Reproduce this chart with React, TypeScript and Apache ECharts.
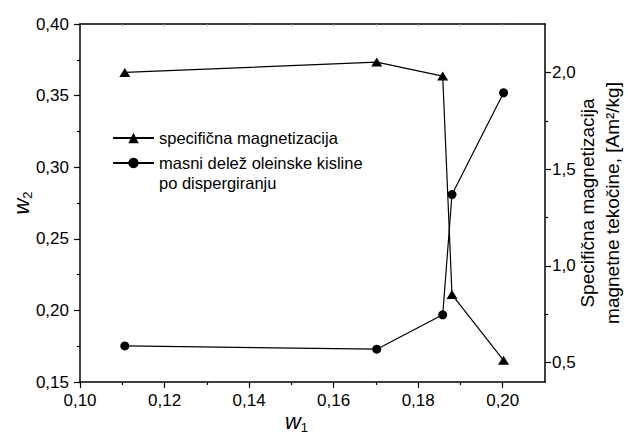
import React, { useEffect, useRef } from "react";
import * as echarts from "echarts";

const FONT = '"Liberation Sans", Arial, Helvetica, sans-serif';

// w1 (x) values shared by both series
const w1 = [0.1106, 0.1702, 0.1858, 0.188, 0.2002];
// specifična magnetizacija [Am²/kg] (right axis)
const magnetization = [2.0, 2.053, 1.981, 0.852, 0.512];
// masni delež oleinske kisline po dispergiranju, w2 (left axis)
const oleicFraction = [0.1752, 0.1729, 0.1969, 0.2809, 0.352];

const xMajorTicks = [0.1, 0.12, 0.14, 0.16, 0.18, 0.2];
const xMinorTicks = [0.11, 0.13, 0.15, 0.17, 0.19];
const xTopTicks = [0.11, 0.12, 0.13, 0.14, 0.15, 0.16, 0.17, 0.18, 0.19, 0.2];
const rightMajorTicks = [0.5, 1.0, 1.5, 2.0];
const rightMinorTicks = [0.75, 1.25, 1.75];

const seriesMagName = "specifična magnetizacija";
const seriesOleName = "masni delež oleinske kisline\npo dispergiranju";

export default function App() {
  const ref = useRef<HTMLDivElement>(null);
  useEffect(() => {
    document.body.style.margin = "0";
    if (!ref.current) return;
    const chart = echarts.init(ref.current, null, { renderer: "svg" });
    const black = "#000";
    const tickLabel = { color: black, fontFamily: FONT, fontSize: 17 };
    const legendText = { color: black, fontFamily: FONT, fontSize: 16.5, lineHeight: 20 };
    const subRich = {
      i: { fontFamily: FONT, fontSize: 22, fontStyle: "italic", color: black, lineHeight: 22, verticalAlign: "top" },
      s: { fontFamily: FONT, fontSize: 13, color: black, lineHeight: 13, padding: [11, 0, 0, 0], verticalAlign: "top" },
    };
    const option: any = {
      animation: false,
      backgroundColor: "#fff",
      grid: { left: 80, right: 83, top: 24, bottom: 55, containLabel: false, outerBoundsMode: "none" },
      legend: [
        {
          data: [{ name: seriesMagName }],
          orient: "vertical",
          left: 112,
          top: 128,
          padding: 0,
          itemWidth: 41,
          itemHeight: 13,
          selectedMode: false,
          textStyle: legendText,
        },
        {
          data: [{ name: seriesOleName }],
          orient: "vertical",
          left: 112,
          top: 133,
          padding: 0,
          itemWidth: 41,
          itemHeight: 13,
          selectedMode: false,
          // leading empty line keeps the icon level with the first text line
          formatter: (name: string) => "\n" + name,
          textStyle: legendText,
        },
      ],
      xAxis: [
        {
          type: "value",
          position: "bottom",
          min: 0.1,
          max: 0.21,
          name: "{i|w}{s|1}",
          nameLocation: "middle",
          nameGap: 28,
          nameMoveOverlap: false,
          nameTextStyle: { padding: [0, 32, 0, 0], rich: subRich },
          axisLine: { show: true, lineStyle: { color: black, width: 1.5 } },
          axisTick: { show: true, inside: false, length: 6, lineStyle: { color: black, width: 1.2 }, customValues: xMajorTicks },
          axisLabel: {
            ...tickLabel,
            margin: 10,
            customValues: xMajorTicks,
            formatter: (v: number) => v.toFixed(2).replace(".", ","),
          },
          splitLine: { show: false },
        },
        {
          type: "value",
          position: "bottom",
          min: 0.1,
          max: 0.21,
          axisLine: { show: false },
          axisTick: { show: true, inside: false, length: 3, lineStyle: { color: black, width: 1.2 }, customValues: xMinorTicks },
          axisLabel: { show: false },
          splitLine: { show: false },
        },
        {
          type: "value",
          position: "top",
          min: 0.1,
          max: 0.21,
          axisLine: { show: true, lineStyle: { color: black, width: 1.5 } },
          axisTick: { show: true, inside: true, length: 2, lineStyle: { color: "#999", width: 1 }, customValues: xTopTicks },
          axisLabel: { show: false },
          splitLine: { show: false },
        },
      ],
      yAxis: [
        {
          type: "value",
          position: "left",
          min: 0.15,
          max: 0.4,
          interval: 0.05,
          name: "{i|w}{s|2}",
          nameLocation: "middle",
          nameRotate: 90,
          nameGap: 48,
          nameMoveOverlap: false,
          nameTextStyle: { rich: subRich },
          axisLine: { show: true, lineStyle: { color: black, width: 1.5 } },
          axisTick: { show: true, inside: false, length: 6, lineStyle: { color: black, width: 1.2 } },
          minorTick: { show: true, splitNumber: 2, length: 3, lineStyle: { color: black, width: 1.2 } },
          axisLabel: {
            ...tickLabel,
            margin: 11,
            formatter: (v: number) => v.toFixed(2).replace(".", ","),
          },
          splitLine: { show: false },
          minorSplitLine: { show: false },
        },
        {
          type: "value",
          position: "right",
          min: 0.4,
          max: 2.25,
          name: "Specifična magnetizacija\nmagnetne tekočine, [Am²/kg]",
          nameLocation: "middle",
          nameRotate: 90,
          nameGap: 30,
          nameMoveOverlap: false,
          nameTextStyle: { fontFamily: FONT, fontSize: 19, color: black, lineHeight: 25, align: "center" },
          axisLine: { show: true, lineStyle: { color: black, width: 1.5 } },
          axisTick: { show: true, inside: false, length: 6, lineStyle: { color: black, width: 1.2 }, customValues: rightMajorTicks },
          axisLabel: {
            ...tickLabel,
            margin: 7,
            customValues: rightMajorTicks,
            formatter: (v: number) => v.toFixed(1).replace(".", ","),
          },
          splitLine: { show: false },
        },
        {
          type: "value",
          position: "right",
          min: 0.4,
          max: 2.25,
          axisLine: { show: false },
          axisTick: { show: true, inside: false, length: 3, lineStyle: { color: black, width: 1.2 }, customValues: rightMinorTicks },
          axisLabel: { show: false },
          splitLine: { show: false },
        },
      ],
      series: [
        {
          name: seriesMagName,
          type: "line",
          xAxisIndex: 0,
          yAxisIndex: 1,
          data: w1.map((x, i) => [x, magnetization[i]]),
          symbol: "triangle",
          symbolSize: [11, 9],
          showSymbol: true,
          lineStyle: { color: black, width: 1.2 },
          itemStyle: { color: black },
          z: 3,
        },
        {
          name: seriesOleName,
          type: "line",
          xAxisIndex: 0,
          yAxisIndex: 0,
          data: w1.map((x, i) => [x, oleicFraction[i]]),
          symbol: "circle",
          symbolSize: 9,
          showSymbol: true,
          lineStyle: { color: black, width: 1.2 },
          itemStyle: { color: black },
          z: 3,
        },
      ],
    };
    chart.setOption(option);
    return () => chart.dispose();
  }, []);
  return <div ref={ref} style={{ width: 628, height: 437 }} />;
}
